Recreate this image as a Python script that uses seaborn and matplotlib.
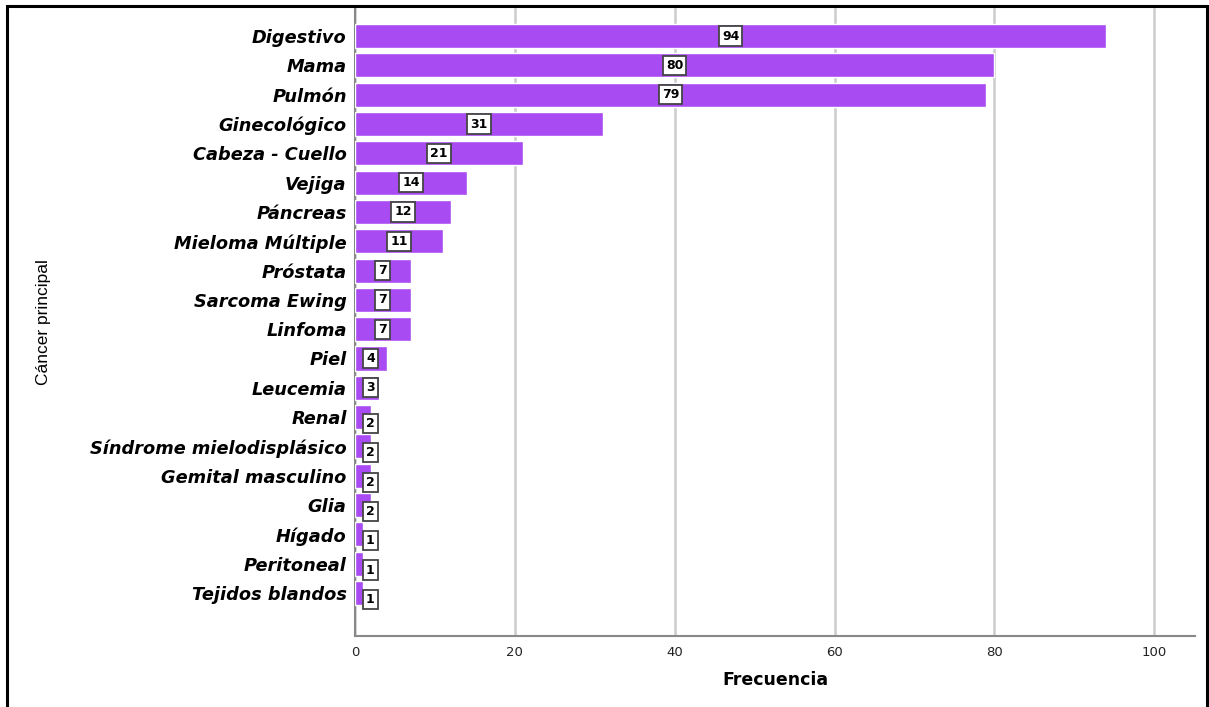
import matplotlib
matplotlib.use("Agg")
import matplotlib.pyplot as plt
import seaborn as sns
import pandas as pd
from matplotlib.patches import Rectangle

categories = [
    "Digestivo", "Mama", "Pulmón", "Ginecológico", "Cabeza - Cuello", "Vejiga",
    "Páncreas", "Mieloma Múltiple", "Próstata", "Sarcoma Ewing", "Linfoma", "Piel",
    "Leucemia", "Renal", "Síndrome mielodisplásico", "Gemital masculino", "Glia",
    "Hígado", "Peritoneal", "Tejidos blandos",
]
counts = [94, 80, 79, 31, 21, 14, 12, 11, 7, 7, 7, 4, 3, 2, 2, 2, 2, 1, 1, 1]
x_ticks = [0, 20, 40, 60, 80, 100]

df = pd.DataFrame({"cancer": categories, "freq": counts})

sns.set_theme(style="white")
plt.rcParams["font.family"] = ["Liberation Sans", "DejaVu Sans"]

fig = plt.figure(figsize=(12.09, 7.07), dpi=100)
ax = fig.add_axes([0.2936, 0.1004, 0.6948, 0.8883])

bar_color = "#A94BF2"
sns.barplot(data=df, x="freq", y="cancer", orient="h", color=bar_color,
            saturation=1, width=0.82, ax=ax, zorder=3)

ax.set_axisbelow(True)
ax.set_xlim(0, 105.1)
ax.set_ylim(20.47, -0.96)
ax.set_xticks(x_ticks)
ax.set_xticklabels([str(t) for t in x_ticks], fontsize=9.5, color="#222222",
                   family=["DejaVu Sans"])
ax.xaxis.grid(True, color="#cccccc", linewidth=1.8, zorder=0)
ax.yaxis.grid(False)
ax.tick_params(axis="both", length=0)
ax.tick_params(axis="x", pad=7)
ax.tick_params(axis="y", pad=6)
for lbl in ax.get_yticklabels():
    lbl.set_family(["DejaVu Sans"])
    lbl.set_fontsize(12.8)
    lbl.set_fontweight("bold")
    lbl.set_fontstyle("italic")
    lbl.set_color("black")

for side in ("top", "right"):
    ax.spines[side].set_visible(False)
for side in ("left", "bottom"):
    ax.spines[side].set_color("#888888")
    ax.spines[side].set_linewidth(1.5)

ax.set_xlabel("Frecuencia", fontsize=12.5, fontweight="bold", color="black",
              family=["DejaVu Sans"], labelpad=9)
ax.set_ylabel("Cáncer principal", fontsize=12.5, color="black",
              family=["Liberation Sans Narrow", "Liberation Sans", "DejaVu Sans"])
ax.yaxis.set_label_coords(-0.362, 0.5)

# value labels in boxes, centred on each bar
for i, v in enumerate(counts):
    xpos = max(v / 2, 1.9)
    ypos = i + (0.22 if v <= 2 else 0)
    ax.text(xpos, ypos, str(v), ha="center", va="center", fontsize=9,
            fontweight="bold", color="black", family=["DejaVu Sans"], zorder=5,
            bbox=dict(boxstyle="square,pad=0.25", facecolor="white",
                      edgecolor="#444444", linewidth=1.3))

# outer frame around the figure
fig.patches.append(Rectangle((7 / 1209, -0.05), 1200 / 1209, 1 - 6 / 707 + 0.05,
                             transform=fig.transFigure, fill=False,
                             edgecolor="black", linewidth=2.2, zorder=10))

fig.savefig("out.png", dpi=100)
